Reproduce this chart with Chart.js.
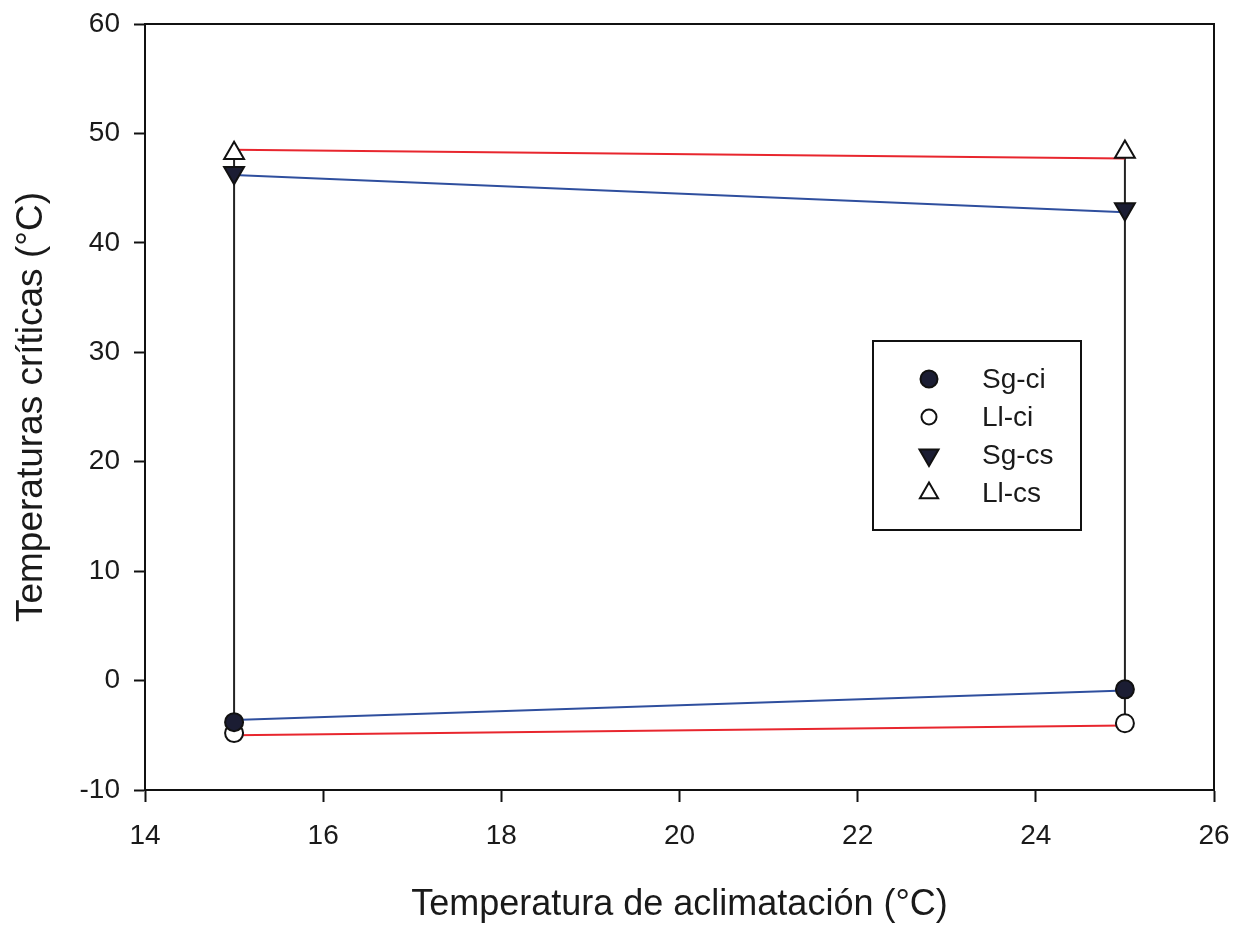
<!DOCTYPE html>
<html>
<head>
    <meta charset="UTF-8">
    <script src="https://cdn.jsdelivr.net/npm/chart.js"></script>
    <style>
        body { margin: 0; background: #fff; }
        #wrap { width: 1239px; height: 927px; }
    </style>
</head>
<body>
    <div id="wrap"><canvas id="tempChart"></canvas></div>
    <script>
        // acclimation temperatures (x) and critical temperatures per group
        const aclimatacion = [15, 25];
        const sgCi = [-3.8, -0.8];
        const llCi = [-4.8, -3.9];
        const sgCs = [46.4, 43.1];
        const llCs = [48.2, 48.3];

        // fitted lines, read at both ends
        const llCsFit = [48.5, 47.7];
        const sgCsFit = [46.2, 42.8];
        const sgCiFit = [-3.6, -0.9];
        const llCiFit = [-5.0, -4.1];

        const xTicks = [14, 16, 18, 20, 22, 24, 26];
        const yTicks = [-10, 0, 10, 20, 30, 40, 50, 60];

        const FONT = '"Liberation Sans", Arial, sans-serif';
        const RED = '#e8262e';
        const BLUE = '#2f4f9e';

        function pts(ys) {
            return aclimatacion.map((x, i) => ({ x: x, y: ys[i] }));
        }

        // vertical connector at each x, from lowest to highest mark
        const verticals = aclimatacion.map((x, i) => {
            const vals = [sgCi[i], llCi[i], sgCs[i], llCs[i]];
            return [{ x: x, y: Math.min(...vals) }, { x: x, y: Math.max(...vals) }];
        });

        function fitLine(ys, color) {
            return { label: '', data: pts(ys), showLine: true, borderColor: color, borderWidth: 2,
                     pointRadius: 0, order: 2 };
        }

        function marker(label, ys, style, fill, rotation, radius, legendRadius) {
            return { label: label, data: pts(ys), showLine: false, pointStyle: style,
                     pointBackgroundColor: fill, pointBorderColor: '#111', pointBorderWidth: 2,
                     pointRadius: radius, rotation: rotation, order: 0, inLegend: true,
                     legendRadius: legendRadius };
        }

        const datasets = [
            { label: '', data: verticals[0], showLine: true, borderColor: '#222', borderWidth: 2, pointRadius: 0, order: 3 },
            { label: '', data: verticals[1], showLine: true, borderColor: '#222', borderWidth: 2, pointRadius: 0, order: 3 },
            fitLine(llCsFit, RED),
            fitLine(sgCsFit, BLUE),
            fitLine(sgCiFit, BLUE),
            fitLine(llCiFit, RED),
            marker('Sg-ci', sgCi, 'circle', '#1b1d33', 0, 9, 8.5),
            marker('Ll-ci', llCi, 'circle', '#fff', 0, 9, 7.5),
            marker('Sg-cs', sgCs, 'triangle', '#1b1d33', 180, 11.5, 11),
            marker('Ll-cs', llCs, 'triangle', '#fff', 0, 11.5, 10.5)
        ];

        // top and right sides of the frame
        const frame = {
            id: 'frame',
            beforeDatasetsDraw(chart) {
                const a = chart.chartArea, ctx = chart.ctx;
                ctx.save();
                ctx.strokeStyle = '#111';
                ctx.lineWidth = 2;
                ctx.beginPath();
                ctx.moveTo(a.left, a.top);
                ctx.lineTo(a.right, a.top);
                ctx.lineTo(a.right, a.bottom);
                ctx.stroke();
                ctx.restore();
            }
        };

        // boxed legend inside the plot
        const boxLegend = {
            id: 'boxLegend',
            afterDraw(chart) {
                const ctx = chart.ctx;
                ctx.save();
                ctx.strokeStyle = '#111';
                ctx.lineWidth = 2;
                ctx.strokeRect(873, 341, 208, 189);
                ctx.font = '28px ' + FONT;
                ctx.textBaseline = 'middle';
                chart.data.datasets.filter(d => d.inLegend).forEach((d, i) => {
                    const y = 379 + i * 38;
                    ctx.fillStyle = d.pointBackgroundColor;
                    ctx.strokeStyle = '#111';
                    ctx.lineWidth = 2;
                    Chart.helpers.drawPoint(ctx, { pointStyle: d.pointStyle, rotation: d.rotation,
                        radius: d.legendRadius, borderWidth: 2 }, 929, y);
                    ctx.fillStyle = '#1a1a1a';
                    ctx.fillText(d.label, 982, y + 1);
                });
                ctx.restore();
            }
        };

        new Chart(document.getElementById('tempChart'), {
            type: 'scatter',
            data: { datasets: datasets },
            plugins: [frame, boxLegend],
            options: {
                responsive: true,
                maintainAspectRatio: false,
                devicePixelRatio: 1,
                animation: false,
                layout: { padding: { left: 10, top: 24, right: 25, bottom: 0 } },
                plugins: { legend: { display: false }, tooltip: { enabled: false } },
                scales: {
                    x: {
                        type: 'linear', min: 14, max: 26,
                        afterBuildTicks: s => { s.ticks = xTicks.map(v => ({ value: v })); },
                        afterFit: s => { s.height = 137; s.paddingLeft = 0; s.paddingRight = 0; },
                        grid: { drawOnChartArea: false, drawTicks: true, tickLength: 12, tickWidth: 2, color: '#111' },
                        border: { display: true, color: '#111', width: 2 },
                        ticks: { color: '#1a1a1a', padding: 17, font: { family: FONT, size: 28 } },
                        title: { display: true, text: 'Temperatura de aclimatación (°C)', color: '#1a1a1a',
                                 padding: 0, font: { family: FONT, size: 36 } }
                    },
                    y: {
                        type: 'linear', min: -10, max: 60,
                        afterBuildTicks: s => { s.ticks = yTicks.map(v => ({ value: v })); },
                        afterFit: s => { s.width = 135; s.paddingTop = 0; s.paddingBottom = 0; },
                        grid: { drawOnChartArea: false, drawTicks: true, tickLength: 11, tickWidth: 2, color: '#111' },
                        border: { display: true, color: '#111', width: 2 },
                        ticks: { color: '#1a1a1a', padding: 14, font: { family: FONT, size: 28 } },
                        title: { display: true, text: 'Temperaturas críticas (°C)', color: '#1a1a1a',
                                 padding: 0, font: { family: FONT, size: 37 } }
                    }
                }
            }
        });
    </script>
</body>
</html>
